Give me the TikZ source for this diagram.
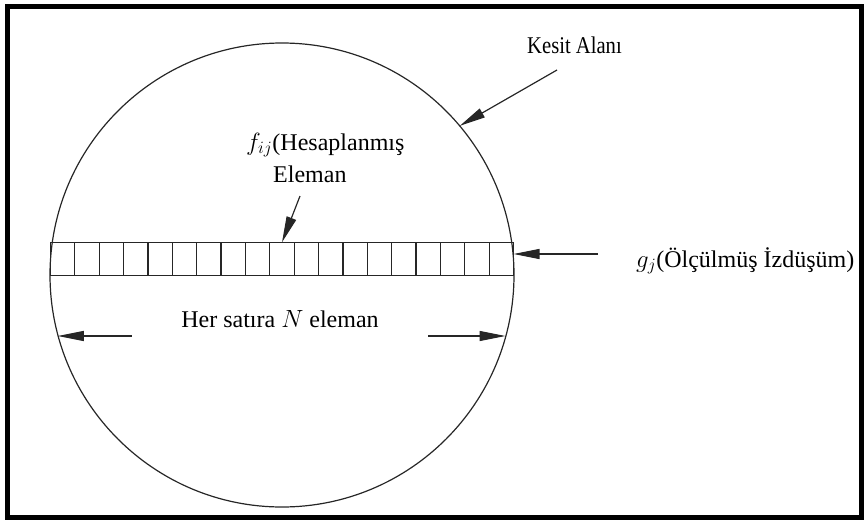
\documentclass[tikz,border=0pt]{standalone}
\usepackage{fontspec}
\setmainfont{Liberation Serif}
\newfontfamily\tnr{Liberation Serif}
\usetikzlibrary{arrows.meta,calc}
\begin{document}
\begin{tikzpicture}[x=1pt,y=-1pt,
  lbl/.style={inner sep=0pt,font=\tnr\fontsize{24}{29}\selectfont},
  ln/.style={line width=1.2pt,draw=black!85},
  arr/.style={ln,-{Triangle[length=26pt,width=10pt]}}]
\useasboundingbox (0,0) rectangle (864,520);
% frame
\draw[line width=5pt] (7,6) rectangle (861.5,517.5);
% circle
\node[circle,draw=black!85,line width=1.2pt,minimum size=464pt,inner sep=0pt,outer sep=0pt] (C) at (282,275) {};
% strip of elements
\node[rectangle,draw=black!85,line width=1.2pt,minimum width=463pt,minimum height=33.4pt,inner sep=0pt,outer sep=0pt,anchor=west] (S) at (50.5,259) {};
\foreach \i in {1,...,18}{
  \draw[ln] ($(S.north west)+(\i*24.368,0)$) -- ($(S.south west)+(\i*24.368,0)$);
}
% labels
\node[lbl,anchor=base west] (K) at (527,53) {\scalebox{0.86}[1]{Kesit Alanı}};
\node[lbl,anchor=base west] (F) at (246,150) {$f_{ij}$(Hesaplanmış};
\node[lbl,anchor=base west] (E) at (273,182) {Eleman};
\node[lbl,anchor=base west] (G) at (636,267) {$g_j$(Ölçülmüş İzdüşüm)};
\node[lbl,anchor=base] (H) at (280,327) {Her satıra $N$ eleman};
% arrow anchors
\coordinate (k1) at (557,70);
\coordinate (f1) at (300,196);
\coordinate (g1) at (598,254);
\coordinate (hl) at (131.7,336);
\coordinate (hr) at (428.3,336);
\coordinate (hlt) at (57.8,336);
\coordinate (hrt) at (505.5,336);
% arrows
\draw[arr] (k1) -- (C.40);
\draw[arr] (f1) -- (S.north);
\draw[arr] (g1) -- (g1 -| S.east);
\draw[arr] (hl) -- (hlt);
\draw[arr] (hr) -- (hrt);
\end{tikzpicture}
\end{document}
